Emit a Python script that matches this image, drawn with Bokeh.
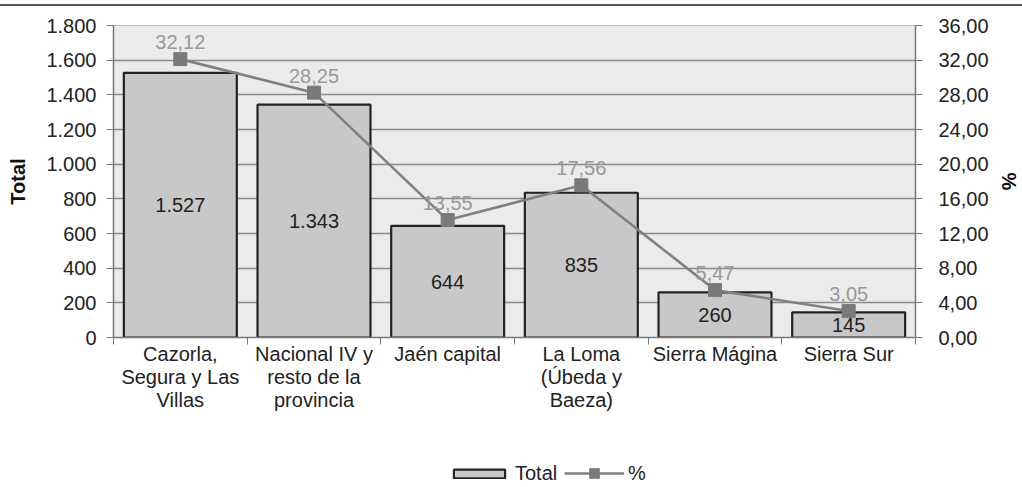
from bokeh.plotting import figure
from bokeh.models import (ColumnDataSource, Range1d, LinearAxis, FixedTicker, Legend, LegendItem, LabelSet, Div)
from bokeh.layouts import column
from bokeh.core.properties import value
from bokeh.embed import file_html
from bokeh.resources import INLINE

categories = ["Cazorla,\nSegura y Las\nVillas", "Nacional IV y\nresto de la\nprovincia", "Jaén capital",
              "La Loma\n(Úbeda y\nBaeza)", "Sierra Mágina", "Sierra Sur"]
totals = [1527, 1343, 644, 835, 260, 145]
total_labels = ["1.527", "1.343", "644", "835", "260", "145"]
percents = [32.12, 28.25, 13.55, 17.56, 5.47, 3.05]
percent_labels = ["32,12", "28,25", "13,55", "17,56", "5,47", "3,05"]
left_ticks = [0, 200, 400, 600, 800, 1000, 1200, 1400, 1600, 1800]
right_ticks = [0, 4, 8, 12, 16, 20, 24, 28, 32, 36]

FONT = "Liberation Sans"
FS = "20px"
xs = [i + 0.5 for i in range(len(categories))]

src = ColumnDataSource(dict(
    x=xs, total=totals, half=[t / 2 for t in totals], tl=total_labels,
    pct=percents, pl=percent_labels))

BAR_STYLE = dict(fill_color="#c8c8c8", line_color="#222222", line_width=2.2)
LINE_STYLE = dict(line_color="#808080", line_width=2.6)
SQ_STYLE = dict(marker="square", size=13, fill_color="#7a7a7a", line_color="#7a7a7a")

p = figure(width=1022, height=451, output_backend="svg", toolbar_location=None,
           x_range=Range1d(0, 6), y_range=Range1d(0, 1800),
           min_border_left=113, min_border_right=97, min_border_top=19, min_border_bottom=120)
p.background_fill_color = "#ebebeb"
p.border_fill_color = "white"
p.outline_line_color = "#bbbbbb"
p.outline_line_width = 1

p.extra_y_ranges = {"pct": Range1d(0, 36)}

p.xgrid.grid_line_color = None
p.ygrid.grid_line_color = "#8a8a8a"
p.ygrid.grid_line_width = 1.3
p.ygrid.ticker = FixedTicker(ticks=left_ticks)

p.vbar(x="x", top="total", width=0.845, source=src, **BAR_STYLE)
p.line(x="x", y="pct", source=src, y_range_name="pct", **LINE_STYLE)
p.scatter(x="x", y="pct", source=src, y_range_name="pct", **SQ_STYLE)

p.add_layout(LabelSet(x="x", y="half", text="tl", source=src, text_align="center",
                      text_baseline="middle", text_font_size=FS, text_color="#222222",
                      text_font=value(FONT)))
p.add_layout(LabelSet(x="x", y="pct", text="pl", source=src, y_range_name="pct",
                      text_align="center", text_baseline="bottom", y_offset=10,
                      text_font_size=FS, text_color="#999999", text_font=value(FONT)))

xa = p.xaxis[0]
xa.ticker = FixedTicker(ticks=xs, minor_ticks=list(range(len(categories) + 1)))
xa.major_label_overrides = {x: c for x, c in zip(xs, categories)}
xa.major_tick_line_color = None
xa.major_tick_out = 0
xa.major_tick_in = 0
xa.minor_tick_line_color = "#777777"
xa.minor_tick_out = 7
xa.minor_tick_in = 0
xa.axis_line_color = "#777777"
xa.axis_line_width = 1.5
xa.major_label_text_font = FONT
xa.major_label_text_font_size = FS
xa.major_label_text_line_height = 1.05
xa.major_label_text_color = "#222222"
xa.major_label_standoff = -2

ya = p.yaxis[0]
ya.ticker = FixedTicker(ticks=left_ticks)
ya.major_label_overrides = {t: f"{t:,}".replace(",", ".") for t in left_ticks}
ya.axis_label = "Total"
ya.axis_label_text_font = FONT
ya.axis_label_text_font_style = "bold"
ya.axis_label_text_font_size = FS
ya.axis_label_text_color = "#111111"
ya.axis_label_standoff = 14
ya.major_label_standoff = 10
ya.major_label_text_font = FONT
ya.major_label_text_font_size = FS
ya.major_label_text_color = "#222222"
ya.major_tick_out = 7
ya.major_tick_in = 0
ya.minor_tick_line_color = None
ya.axis_line_color = "#777777"
ya.axis_line_width = 1.5
ya.major_tick_line_color = "#777777"

ra = LinearAxis(y_range_name="pct", ticker=FixedTicker(ticks=right_ticks))
ra.major_label_overrides = {t: f"{t:.2f}".replace(".", ",") for t in right_ticks}
ra.axis_label = "%"
ra.axis_label_text_font = FONT
ra.axis_label_text_font_style = "bold"
ra.axis_label_text_font_size = FS
ra.axis_label_text_color = "#111111"
ra.axis_label_standoff = 6
ra.major_label_standoff = 16
ra.major_label_text_font = FONT
ra.major_label_text_font_size = FS
ra.major_label_text_color = "#222222"
ra.major_tick_out = 7
ra.major_tick_in = 0
ra.minor_tick_line_color = None
ra.axis_line_color = "#777777"
ra.axis_line_width = 1.5
ra.major_tick_line_color = "#777777"
p.add_layout(ra, "right")

# legend strip: hidden copies of the renderers, only their legend glyphs are shown
lg = figure(width=1022, height=30, output_backend="svg", toolbar_location=None,
            x_axis_type=None, y_axis_type=None,
            x_range=Range1d(20, 21), y_range=Range1d(-3, -2),
            min_border=0)
lg.outline_line_color = None
lg.xgrid.grid_line_color = None
lg.ygrid.grid_line_color = None
rb = lg.vbar(x="x", top="total", width=0.845, source=src, visible=False, **BAR_STYLE)
rl = lg.line(x="x", y="pct", source=src, visible=False, **LINE_STYLE)
rs = lg.scatter(x="x", y="pct", source=src, visible=False, **SQ_STYLE)

LEG = dict(orientation="horizontal", label_text_font=FONT, label_text_font_size=FS,
           label_text_color="#222222", label_standoff=4, border_line_color=None,
           background_fill_alpha=0, padding=0, margin=0, inactive_fill_alpha=0)
leg1 = Legend(items=[LegendItem(label="Total", renderers=[rb])], location=(334, 2),
              glyph_width=64, glyph_height=11, **LEG)
leg2 = Legend(items=[LegendItem(label="%", renderers=[rl, rs])], location=(451, 2),
              glyph_width=60, glyph_height=24, **LEG)
lg.add_layout(leg1, "center")
lg.add_layout(leg2, "center")

rule = Div(text="", width=1022, height=6, margin=0,
           styles={"border-bottom": "2px solid #555555", "box-sizing": "border-box"})

layout = column(rule, p, lg, spacing=0)
open("out.html", "w").write(file_html(layout, INLINE))
